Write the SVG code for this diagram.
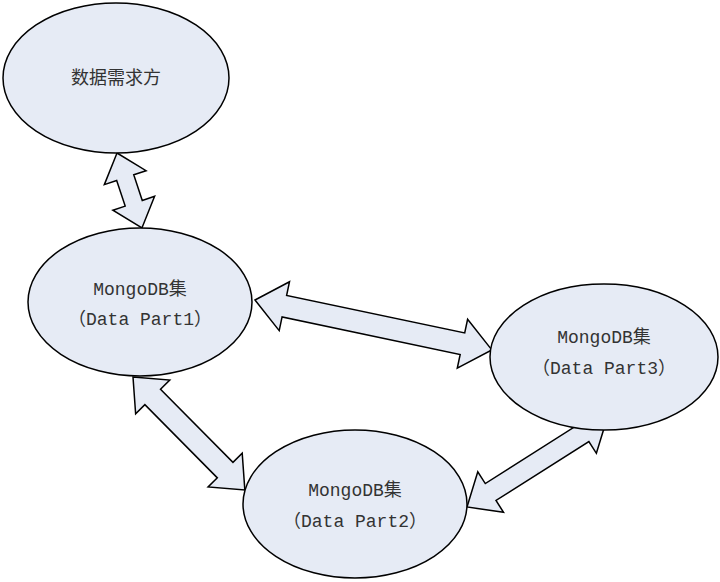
<svg xmlns="http://www.w3.org/2000/svg" width="720" height="582" viewBox="0 0 720 582">
<style>
.n{fill:#e6ebf5;stroke:#000;stroke-width:1.5}
.a{fill:#e6ebf5;stroke:#000;stroke-width:1.5;stroke-linejoin:miter}
text{font-family:"Liberation Mono","Noto Sans CJK SC",monospace;font-size:18px;fill:#333;text-anchor:middle}
</style>
<rect width="720" height="582" fill="#fff"/>
<g id="connectors">
<polygon class="a" transform="translate(117,153) rotate(71.6)" points="0,0 26,-22 26,-9 53,-9 53,-22 79,0 53,22 53,9 26,9 26,22"/>
<polygon class="a" transform="translate(255,300) rotate(11.9)" points="0,0 30,-25 30,-11 212,-11 212,-25 242,0 212,25 212,11 30,11 30,25"/>
<polygon class="a" transform="translate(133,377) rotate(45.3)" points="0,0 28,-24 28,-11 131,-11 131,-24 159,0 131,24 131,11 28,11 28,24"/>
<polygon class="a" transform="translate(467,507) rotate(-32.4)" points="0,0 28,-24 28,-10 138,-10 138,-24 166,0 138,24 138,10 28,10 28,24"/>
</g>
<g id="n1"><ellipse class="n" cx="116" cy="78" rx="113" ry="75"/><text x="116" y="84">数据需求方</text></g>
<g id="n2"><ellipse class="n" cx="140" cy="302" rx="112" ry="74"/><text x="140" y="295">MongoDB集</text><text x="140" y="325">（Data Part1）</text></g>
<g id="n3"><ellipse class="n" cx="604" cy="357" rx="114" ry="73"/><text x="604" y="343">MongoDB集</text><text x="604" y="374">（Data Part3）</text></g>
<g id="n4"><ellipse class="n" cx="355" cy="504" rx="112" ry="74"/><text x="355" y="496">MongoDB集</text><text x="355" y="527">（Data Part2）</text></g>
</svg>
